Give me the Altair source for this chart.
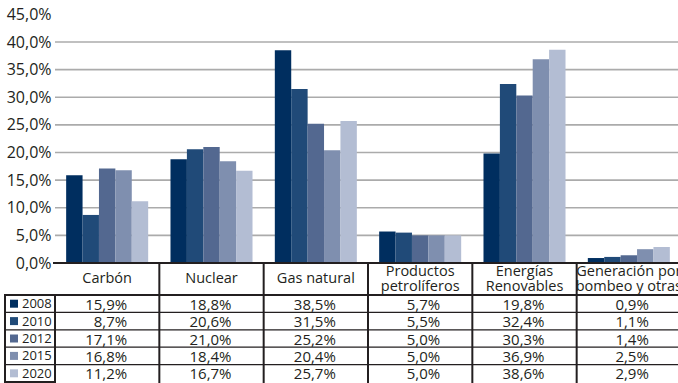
import altair as alt
import pandas as pd

# Electricity generation mix by source (% of total), selected years
categories = [
    "Carbón",
    "Nuclear",
    "Gas natural",
    "Productos\npetrolíferos",
    "Energías\nRenovables",
    "Generación por\nbombeo y otras",
]
years = ["2008", "2010", "2012", "2015", "2020"]
share_2008 = [15.9, 18.8, 38.5, 5.7, 19.8, 0.9]
share_2010 = [8.7, 20.6, 31.5, 5.5, 32.4, 1.1]
share_2012 = [17.1, 21.0, 25.2, 5.0, 30.3, 1.4]
share_2015 = [16.8, 18.4, 20.4, 5.0, 36.9, 2.5]
share_2020 = [11.2, 16.7, 25.7, 5.0, 38.6, 2.9]
year_colors = ["#002e5f", "#204a78", "#536890", "#7f8faf", "#b3bdd3"]
y_ticks = [0, 5, 10, 15, 20, 25, 30, 35, 40, 45]
grid_values = [5, 10, 15, 20, 25, 30, 35, 40]

series = [share_2008, share_2010, share_2012, share_2015, share_2020]
rows = []
for year, vals in zip(years, series):
    for cat, v in zip(categories, vals):
        rows.append({
            "cat": cat,
            "year": year,
            "value": v,
            "label": f"{v:.1f}".replace(".", ",") + "%",
        })
df = pd.DataFrame(rows)
cats_df = pd.DataFrame({"cat": categories})
cats_df["lines"] = cats_df["cat"].str.count("\n") + 1
years_df = pd.DataFrame({"year": years})
grid_df = pd.DataFrame({"v": grid_values})

# layout of the canvas (pixels)
W, H = 623, 383
LEFT = 55
BAND_SPAN = 626
ZERO_Y, TOP_Y = 263.0, 14.4
TABLE_TOP, TABLE_BOTTOM = 295, 382
HEADER_MID = (ZERO_Y + TABLE_TOP) / 2
LINE_H = 15
INK = "#231f20"
FONT = "Open Sans"

xscale = alt.Scale(domain=categories, range=[0, BAND_SPAN], paddingInner=0, paddingOuter=0)
yscale = alt.Scale(domain=[0, 45], range=[ZERO_Y, TOP_Y], nice=False, zero=True)
rowscale = alt.Scale(domain=years, range=[TABLE_TOP, TABLE_BOTTOM], paddingInner=0, paddingOuter=0)
colscale = alt.Scale(domain=years, range=year_colors)

X = alt.X("cat:N", scale=xscale, axis=None, sort=categories)

grid = alt.Chart(grid_df).mark_rule(color="#ababab", strokeWidth=1.7).encode(
    y=alt.Y("v:Q", scale=yscale, axis=None),
    x=alt.value(0),
    x2=alt.value(BAND_SPAN),
)

bars = alt.Chart(df).mark_bar().encode(
    x=X,
    xOffset=alt.XOffset("year:N", sort=years,
                        scale=alt.Scale(domain=years, paddingInner=0, paddingOuter=0.68)),
    y=alt.Y(
        "value:Q",
        scale=yscale,
        title=None,
        axis=alt.Axis(
            values=y_ticks,
            labelExpr="replace(format(datum.value, '.1f'), '.', ',') + '%'",
            ticks=False,
            domain=False,
            grid=False,
            labelPadding=4,
            labelFontSize=16,
            labelFont=FONT,
            labelColor=INK,
        ),
    ),
    color=alt.Color("year:N", scale=colscale, legend=None),
)

zero_line = alt.Chart(grid_df.head(1)).mark_rule(color=INK, strokeWidth=2.2).encode(
    y=alt.value(ZERO_Y),
    x=alt.value(-2),
    x2=alt.value(BAND_SPAN),
)

# table frame
col_lines = alt.Chart(cats_df.iloc[1:]).mark_rule(color=INK, strokeWidth=2).encode(
    x=alt.X("cat:N", scale=xscale, axis=None, bandPosition=0),
    y=alt.value(ZERO_Y),
    y2=alt.value(H),
)

row_lines = alt.Chart(years_df.iloc[1:]).mark_rule(color=INK, strokeWidth=1.2).encode(
    y=alt.Y("year:N", scale=rowscale, axis=None, bandPosition=0),
    x=alt.value(-50),
    x2=alt.value(BAND_SPAN),
)

table_top = alt.Chart(years_df.head(1)).mark_rule(color=INK, strokeWidth=2).encode(
    y=alt.Y("year:N", scale=rowscale, axis=None, bandPosition=0),
    x=alt.value(-50),
    x2=alt.value(BAND_SPAN),
)

legend_box = alt.Chart(years_df.head(1)).mark_rect(
    fill=None, fillOpacity=0, stroke=INK, strokeWidth=2
).encode(
    x=alt.value(-50),
    x2=alt.value(0),
    y=alt.value(TABLE_TOP),
    y2=alt.value(TABLE_BOTTOM),
)

header_style = dict(font=FONT, fontSize=14.5, color=INK, lineBreak="\n",
                    lineHeight=LINE_H, baseline="middle")

headers_one = alt.Chart(cats_df[cats_df["lines"] == 1]).mark_text(**header_style).encode(
    x=X,
    y=alt.value(HEADER_MID),
    text="cat:N",
)

headers_two = alt.Chart(cats_df[cats_df["lines"] == 2]).mark_text(**header_style).encode(
    x=X,
    y=alt.value(HEADER_MID - LINE_H / 2),
    text="cat:N",
)

cells = alt.Chart(df).mark_text(
    font=FONT, fontSize=15, color=INK, align="right", baseline="middle", dx=20, dy=1
).encode(
    x=X,
    y=alt.Y("year:N", scale=rowscale, axis=None),
    text="label:N",
)

swatches = alt.Chart(years_df).mark_square(size=64, opacity=1).encode(
    x=alt.value(-41),
    y=alt.Y("year:N", scale=rowscale, axis=None),
    color=alt.Color("year:N", scale=colscale, legend=None),
)

year_labels = alt.Chart(years_df).mark_text(
    font=FONT, fontSize=13, color=INK, align="left", baseline="middle", dy=0.5
).encode(
    x=alt.value(-33),
    y=alt.Y("year:N", scale=rowscale, axis=None),
    text="year:N",
)

chart = (
    alt.layer(grid, bars, zero_line, col_lines, row_lines, table_top, legend_box,
              headers_one, headers_two, cells, swatches, year_labels)
    .resolve_scale(y="independent")
    .properties(
        width=W,
        height=H,
        background="white",
        autosize=alt.AutoSizeParams(type="none"),
        padding={"left": LEFT, "top": 0, "right": 0, "bottom": 0},
    )
    .configure_view(stroke=None, strokeWidth=0)
    .configure_axis(domain=False, ticks=False)
)

chart.save("out.html", embed_options={"renderer": "svg", "actions": False})
